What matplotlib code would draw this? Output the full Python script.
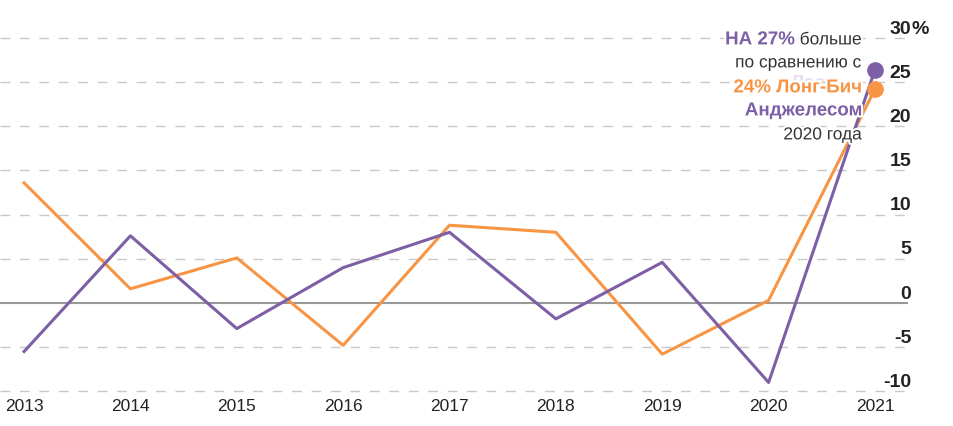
import matplotlib.pyplot as plt
import matplotlib.patheffects as pe

plt.rcParams["font.family"] = ["Liberation Sans", "DejaVu Sans"]

# Данные
years = [2013, 2014, 2015, 2016, 2017, 2018, 2019, 2020, 2021]
los_angeles = [-5.5, 7.6, -2.9, 4.0, 8.0, -1.8, 4.6, -9.0, 26.4]
long_beach = [13.6, 1.6, 5.1, -4.8, 8.8, 8.0, -5.8, 0.3, 24.2]
y_ticks = [-10, -5, 5, 10, 15, 20, 25, 30]

purple = "#7d5fa6"
orange = "#f79545"
grid_c = "#c8c8c8"
text_c = "#333333"

fig = plt.figure(figsize=(9.54, 4.26), dpi=100)
ax = fig.add_axes([0, 0, 1, 1])
ax.set_xlim(2012.774, 2021.743)
ax.set_ylim(-13.93, 34.3)
ax.axis("off")

x_end = 2021.31
# Линии сетки
for v in y_ticks:
    ax.hlines(v, 2012.774, x_end, colors=grid_c, linestyles=(0, (7, 7)), linewidth=1, zorder=1)
ax.hlines(0, 2012.774, x_end, colors="#999999", linewidth=1.5, zorder=1)

# Подписи оси Y
for v in y_ticks + [0]:
    ax.text(x_end + 0.03, v + 0.5, str(v), ha="right", va="baseline",
            fontsize=14, fontweight="bold", color="#222222")
ax.text(x_end + 0.03, 30 + 0.5, "%", ha="left", va="baseline",
        fontsize=14, fontweight="bold", color="#222222")

# Подписи годов
for y in years:
    ax.text(y, -11.7, str(y), ha="center", va="center", fontsize=12.5,
            color="#222222")

# Серии
ax.plot(years, long_beach, color=orange, linewidth=2.2, zorder=3)
ax.plot(years, los_angeles, color=purple, linewidth=2.2, zorder=3)
ax.plot(years[-1], los_angeles[-1], "o", color=purple, markersize=11, zorder=5)
ax.plot(years[-1], long_beach[-1], "o", color=orange, markersize=11, zorder=5)

# Аннотация
halo = [pe.withStroke(linewidth=3, foreground="white")]
xr = 2013 + (862 - 24) / 106.375
fs = 12.5
fsb = 13.5

def yv(py):
    return (303 - py) / 8.83

t = ax.text(xr, yv(40), " больше", ha="right", va="center", fontsize=fs,
            color=text_c, zorder=6, path_effects=halo)
fig.canvas.draw()
bb = t.get_window_extent()
x_left = ax.transData.inverted().transform((bb.x0, 0))[0]
ax.text(x_left, yv(40), "НА 27%", ha="right", va="center", fontsize=fsb,
        fontweight="bold", color=purple, zorder=6, path_effects=halo)
ax.text(xr, yv(63), "по сравнению с", ha="right", va="center", fontsize=fs,
        color=text_c, zorder=6, path_effects=halo)
ax.text(xr - 0.28, yv(84), "Лос-", ha="right", va="center", fontsize=fsb,
        fontweight="bold", color="#e6e0ee", zorder=6)
ax.text(xr, yv(88), "24% Лонг-Бич", ha="right", va="center", fontsize=fsb,
        fontweight="bold", color=orange, zorder=7, path_effects=halo)
ax.text(xr, yv(111), "Анджелесом", ha="right", va="center", fontsize=fsb,
        fontweight="bold", color=purple, zorder=6, path_effects=halo)
ax.text(xr, yv(135), "2020 года", ha="right", va="center", fontsize=fs,
        color=text_c, zorder=6, path_effects=halo)

fig.savefig("out.png", dpi=100, facecolor="white")
